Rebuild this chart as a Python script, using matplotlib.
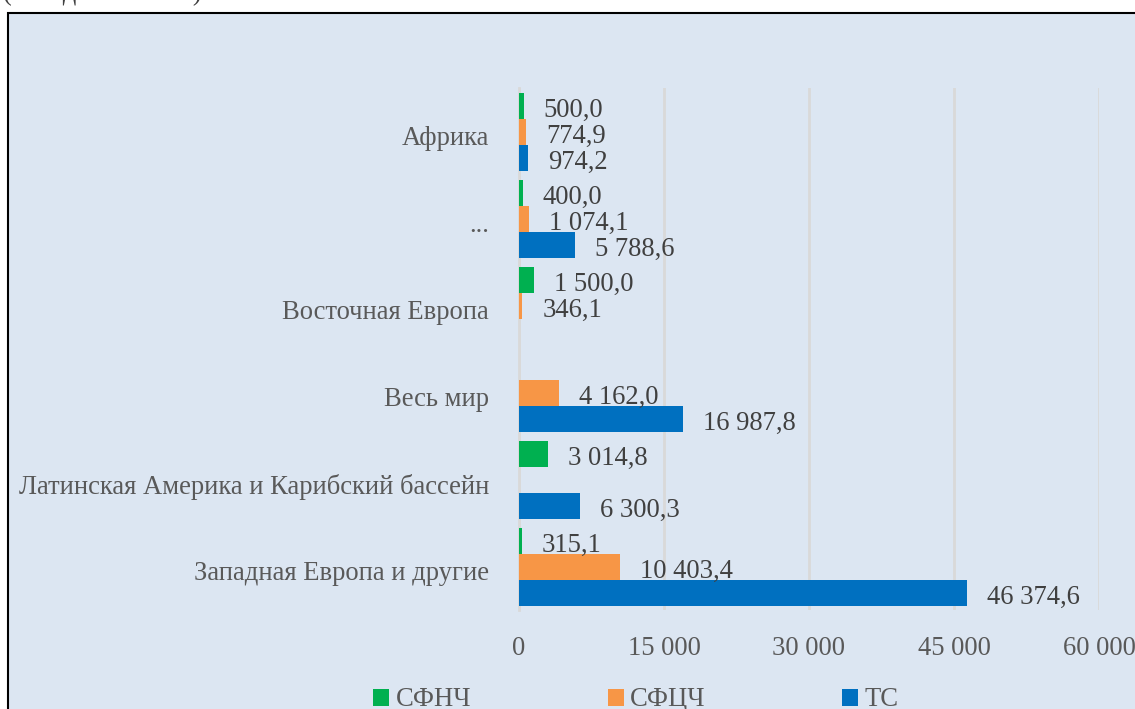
import numpy as np
import matplotlib
matplotlib.use("Agg")
import matplotlib.pyplot as plt
import matplotlib.transforms as mtransforms
from matplotlib.patches import Rectangle, Patch

plt.rcParams['font.family'] = ['Liberation Serif', 'DejaVu Serif']

categories = ["Африка", "...", "Восточная Европа", "Весь мир",
              "Латинская Америка и Карибский бассейн", "Западная Европа и другие"]
series_names = ["СФНЧ", "СФЦЧ", "ТС"]
sfnch = [500.0, 400.0, 1500.0, np.nan, 3014.8, 315.1]
sfcch = [774.9, 1074.1, 346.1, 4162.0, np.nan, 10403.4]
ts = [974.2, 5788.6, np.nan, 16987.8, 6300.3, 46374.6]
xticks = [0, 15000, 30000, 45000, 60000]
xtick_labels = ["0", "15 000", "30 000", "45 000", "60 000"]

colors = ["#00B050", "#F79646", "#0070C0"]
bg = "#DCE6F2"
FS = 19.2

W, H = 1135, 709
fig = plt.figure(figsize=(W / 100, H / 100), dpi=100, facecolor="white")

# framed background
fig.patches.append(Rectangle((8 / W, -0.02), 1.05, 1 - 13 / H + 0.02,
                             transform=fig.transFigure, facecolor=bg,
                             edgecolor="black", lw=1.5, zorder=-5))

# cut-off unit text at the very top
fig.text(3 / W, 1.0, "(млн долл. США)", fontsize=FS, color="#404040",
         ha="left", va="baseline")

ax = fig.add_axes([519 / W, 1 - 610 / H, 580 / W, 522 / H])
ax.set_facecolor("none")
ax.set_zorder(2)

y = np.arange(len(categories))
h = 26 / 87.0
for i, (vals, c) in enumerate(zip([sfnch, sfcch, ts], colors)):
    offs = (i - 1) * h
    ax.barh(y + offs, vals, height=h, color=c, zorder=3)
    for yi, v in zip(y, vals):
        if np.isnan(v):
            continue
        s = f"{v:,.1f}".replace(",", " ").replace(".", ",")
        ax.annotate(s, (v, yi + offs), xytext=(20, -5), textcoords="offset pixels",
                    ha="left", va="center", fontsize=FS, color="#404040", zorder=4)

ax.set_xlim(0, 60000)
ax.set_ylim(len(categories) - 0.5, -0.5)
ax.set_xticks(xticks)
ax.set_xticklabels(xtick_labels)
ax.set_yticks(y)
ax.set_yticklabels(categories)
ax.tick_params(axis="x", length=0, pad=19, labelsize=FS, labelcolor="#595959")
ax.tick_params(axis="y", length=0, pad=21.5, labelsize=FS, labelcolor="#595959")
shift = mtransforms.ScaledTranslation(0, -4 / 100, fig.dpi_scale_trans)
for lab in ax.get_yticklabels():
    lab.set_transform(lab.get_transform() + shift)
ax.grid(axis="x", color="#D9D9D9", lw=2, zorder=0)
ax.set_axisbelow(True)
for sp in ["top", "right", "bottom"]:
    ax.spines[sp].set_visible(False)
ax.spines["left"].set_color("#D9D9D9")
ax.spines["left"].set_linewidth(2)

handles = [Patch(facecolor=c, edgecolor="none") for c in colors]
fig.legend(handles, series_names, ncol=3, loc="center",
           bbox_to_anchor=(636 / W, 1 - 700 / H), frameon=False,
           fontsize=FS, labelcolor="#595959", handlelength=0.6,
           handleheight=0.6, handletextpad=0.25, columnspacing=5.1)

fig.savefig("out.png", dpi=100, facecolor="white")
